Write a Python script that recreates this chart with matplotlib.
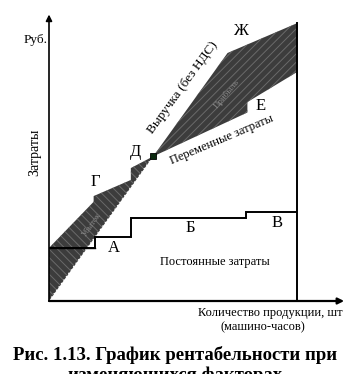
#!/usr/bin/env python3
# plot.py
# График рентабельности при изменяющихся факторах (ломаная выручка и затраты)
import matplotlib
matplotlib.use("Agg")
import matplotlib.pyplot as plt
from matplotlib.patches import Polygon

# --- данные (условные единицы) ---
revenue_x = [0, 72, 100]
revenue_y = [0, 100, 112]

total_x = [0, 18, 18, 33, 33, 42, 80, 80, 100]
total_y = [21.4, 40, 42.3, 48.8, 53.6, 58.3, 76, 80.2, 92.3]

fixed_x = [0, 18.5, 18.5, 33, 33, 79.6, 79.6, 100]
fixed_y = [21.4, 21.4, 25.8, 25.8, 33.5, 33.5, 35.9, 35.9]

breakeven_x = 42
breakeven_y = 58.3

point_labels = ["А", "Б", "В", "Г", "Д", "Е", "Ж"]
point_label_x = [26.2, 56.9, 91.9, 18.5, 34.7, 85.5, 77.4]
point_label_y = [21.4, 29.4, 31.5, 48.0, 60.0, 78.6, 108.9]

plt.rcParams['font.family'] = ['Liberation Serif', 'DejaVu Serif']
plt.rcParams['hatch.linewidth'] = 0.7

W, H = 352, 374
fig = plt.figure(figsize=(W / 100, H / 100), dpi=100)
# оси: x 0..100 -> пиксели 49..297, y 0..114 -> пиксели 301..18
ax = fig.add_axes([49 / W, (H - 301) / H, 248 / W, 283 / H])
ax.set_xlim(0, 100)
ax.set_ylim(0, 114.1)
ax.axis('off')

# зона убытков: полные затраты до точки безубыточности, затем выручка обратно к нулю
n_be = total_x.index(breakeven_x)
loss_pts = list(zip(total_x[:n_be + 1], total_y[:n_be + 1]))
loss_pts += [(0, 0)]
ax.add_patch(Polygon(loss_pts, closed=True, facecolor='#3c3c3c', edgecolor='#6a6a6a',
                     hatch='\\\\\\\\', linewidth=0))

# зона прибыли
profit_pts = [(breakeven_x, breakeven_y)] + list(zip(revenue_x[1:], revenue_y[1:]))
profit_pts += list(zip(total_x[::-1], total_y[::-1]))[:len(total_x) - n_be]
ax.add_patch(Polygon(profit_pts, closed=True, facecolor='#3c3c3c', edgecolor='#6a6a6a',
                     hatch='////', linewidth=0))

# линия выручки на участке убытков (белые точки)
ax.plot([0, breakeven_x], [0, breakeven_y], color='white', lw=1.0, ls=(0, (1, 2)))

# постоянные затраты
ax.plot(fixed_x, fixed_y, color='black', lw=1.4, solid_joinstyle='miter')
ax.plot([0, 18.5], [21.4, 21.4], color='black', lw=1.0)

# оси и правая граница
ax.plot([100, 100], [0, revenue_y[-1]], color='black', lw=1.4, clip_on=False)
ax.annotate('', xy=(0, 115.5), xytext=(0, 0),
            arrowprops=dict(arrowstyle='-|>', color='black', lw=1.2, mutation_scale=9,
                            shrinkA=0, shrinkB=0), annotation_clip=False)
ax.annotate('', xy=(119, 0), xytext=(0, 0),
            arrowprops=dict(arrowstyle='-|>', color='black', lw=1.6, mutation_scale=9,
                            shrinkA=0, shrinkB=0), annotation_clip=False)

# точка безубыточности
ax.plot([breakeven_x], [breakeven_y], marker='s', ms=5, color='#0c2a10',
        mec='black', mew=0.6, clip_on=False)

# подписи
for lab, lx, ly in zip(point_labels, point_label_x, point_label_y):
    ax.text(lx, ly, lab, fontsize=12, ha='center', va='center', clip_on=False)

ax.text(-5.6, 105.2, 'Руб.', fontsize=9.5, ha='center', va='center', clip_on=False)
ax.text(-5.6, 60, 'Затраты', fontsize=10, rotation=90, ha='center', va='center',
        clip_on=False)
ax.text(54, 85.9, 'Выручка (без НДС)', fontsize=9.5, rotation=54, ha='center',
        va='center')
ax.text(69.8, 64.9, 'Переменные затраты', fontsize=9, rotation=23, ha='center',
        va='center')
ax.text(66.9, 15.7, 'Постоянные затраты', fontsize=9, ha='center', va='center')
ax.text(17.3, 30.6, 'Убыток', fontsize=6, rotation=55, color='#8a8a8a', ha='center',
        va='center')
ax.text(71.8, 83.5, 'Прибыль', fontsize=6.5, rotation=50, color='#8a8a8a', ha='center',
        va='center')
ax.text(89.1, -4.8, 'Количество продукции, шт', fontsize=9, ha='center', va='center',
        clip_on=False)
ax.text(86.3, -10.5, '(машино-часов)', fontsize=9, ha='center', va='center',
        clip_on=False)

# подпись рисунка (вторая строка на исходнике обрезана нижним краем)
fig.text(175 / W, 1 - 360 / H, 'Рис. 1.13. График рентабельности при', fontsize=13.5,
         fontweight='bold', ha='center', va='baseline')
fig.text(175 / W, 1 - 380 / H, 'изменяющихся факторах', fontsize=13.5,
         fontweight='bold', ha='center', va='baseline')

fig.savefig('out.png', dpi=100)
